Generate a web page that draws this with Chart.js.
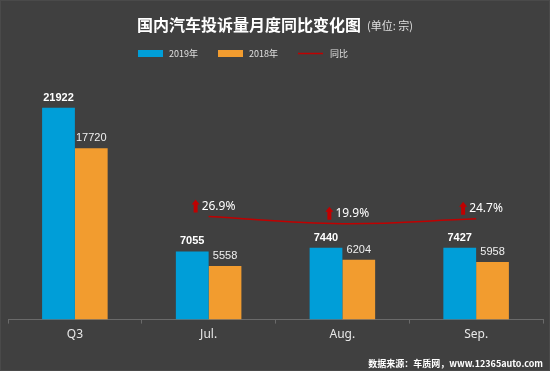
<!DOCTYPE html>
<html>
<head>
<meta charset="utf-8">
<script src="https://cdn.jsdelivr.net/npm/chart.js@4.4.0/dist/chart.umd.min.js"></script>
<style>
  html, body { margin: 0; padding: 0; background: #404040; }
  #wrap { width: 550px; height: 371px; box-sizing: border-box; border: 1px solid #4a4a4a; }
</style>
</head>
<body>
<div id="wrap"><canvas id="complaintChart" width="548" height="369"></canvas></div>
<script>
// Datos del gráfico
const categories = ['Q3', 'Jul.', 'Aug.', 'Sep.'];
const values2019 = [21922, 7055, 7440, 7427];
const values2018 = [17720, 5558, 6204, 5958];
const yoyPercent = [null, 26.9, 19.9, 24.7];
const seriesNames = ['2019年', '2018年', '同比'];

const blue = '#009ed8';
const orange = '#f29c2f';
const red = '#c00000';
const cjk = '"Noto Sans CJK SC", "Noto Sans", sans-serif';

// Plugin para títulos, leyenda y etiquetas
const decorPlugin = {
    id: 'decor',
    afterDraw(chart) {
        const c = chart.ctx;
        c.save();
        // Título
        c.fillStyle = '#ffffff';
        c.textBaseline = 'middle';
        c.textAlign = 'left';
        c.font = 'bold 16px ' + cjk;
        c.fillText('国内汽车投诉量月度同比变化图', 136, 24);
        const w = c.measureText('国内汽车投诉量月度同比变化图').width;
        c.font = '11px ' + cjk;
        c.fillStyle = '#e0e0e0';
        c.fillText('(单位: 宗)', 136 + w + 6, 25);

        // Leyenda
        c.font = '9px ' + cjk;
        c.fillStyle = blue;
        c.fillRect(137, 49, 25, 7);
        c.fillStyle = orange;
        c.fillRect(217, 49, 25, 7);
        c.strokeStyle = red;
        c.lineWidth = 1.5;
        c.beginPath();
        c.moveTo(297, 52.5);
        c.lineTo(322, 52.5);
        c.stroke();
        c.fillStyle = '#e0e0e0';
        c.fillText(seriesNames[0], 168, 53);
        c.fillText(seriesNames[1], 248, 53);
        c.fillText(seriesNames[2], 329, 53);

        // Etiquetas de las barras
        c.textAlign = 'center';
        c.textBaseline = 'middle';
        chart.getDatasetMeta(0).data.forEach((bar, i) => {
            c.font = 'bold 11px "Liberation Sans", Arial, sans-serif';
            c.fillStyle = '#ffffff';
            c.fillText(values2019[i], bar.x, bar.y - 10);
        });
        chart.getDatasetMeta(1).data.forEach((bar, i) => {
            c.font = '11px "Liberation Sans", Arial, sans-serif';
            c.fillStyle = '#f0f0f0';
            c.fillText(values2018[i], bar.x, bar.y - 10);
        });

        // Etiquetas de porcentaje con flecha
        chart.getDatasetMeta(2).data.forEach((pt, i) => {
            if (yoyPercent[i] === null) return;
            const ax = pt.x - 13, ay = pt.y - 10;
            c.fillStyle = red;
            c.beginPath();
            c.moveTo(ax, ay - 7);
            c.lineTo(ax + 4, ay - 2);
            c.lineTo(ax + 2, ay - 2);
            c.lineTo(ax + 2, ay + 6);
            c.lineTo(ax - 2, ay + 6);
            c.lineTo(ax - 2, ay - 2);
            c.lineTo(ax - 4, ay - 2);
            c.closePath();
            c.fill();
            c.font = '12px "Noto Sans", "Liberation Sans", sans-serif';
            c.fillStyle = '#ffffff';
            c.textAlign = 'left';
            c.fillText(yoyPercent[i].toFixed(1) + '%', pt.x - 7, ay);
        });

        // Fuente
        c.textAlign = 'right';
        c.font = 'bold 9px ' + cjk;
        c.fillStyle = '#ffffff';
        c.fillText('数据来源：车质网，www.12365auto.com', 542, 363);
        c.restore();
    }
};

const ctx = document.getElementById('complaintChart').getContext('2d');
const complaintChart = new Chart(ctx, {
    type: 'bar',
    data: {
        labels: categories,
        datasets: [{
            label: seriesNames[0],
            data: values2019,
            backgroundColor: blue,
            yAxisID: 'y',
            order: 2
        }, {
            label: seriesNames[1],
            data: values2018,
            backgroundColor: orange,
            yAxisID: 'y',
            order: 2
        }, {
            type: 'line',
            label: seriesNames[2],
            data: yoyPercent,
            borderColor: red,
            borderWidth: 1.5,
            pointRadius: 0,
            tension: 0.4,
            yAxisID: 'y2',
            order: 1
        }]
    },
    options: {
        responsive: false,
        animation: false,
        layout: { padding: { left: 7, right: 6, top: 77, bottom: 24 } },
        categoryPercentage: 0.49,
        barPercentage: 1,
        plugins: {
            legend: { display: false },
            tooltip: { enabled: false }
        },
        scales: {
            x: {
                grid: {
                    offset: true,
                    drawOnChartArea: false,
                    color: '#6a6a6a',
                    tickLength: 4
                },
                border: { color: '#6a6a6a' },
                ticks: {
                    color: '#e8e8e8',
                    font: { size: 12, family: '"Noto Sans", sans-serif' },
                    padding: 4
                }
            },
            y: { display: false, min: 0, max: 25000 },
            y2: { display: false, min: -75, max: 164 }
        }
    },
    plugins: [decorPlugin]
});
</script>
</body>
</html>
